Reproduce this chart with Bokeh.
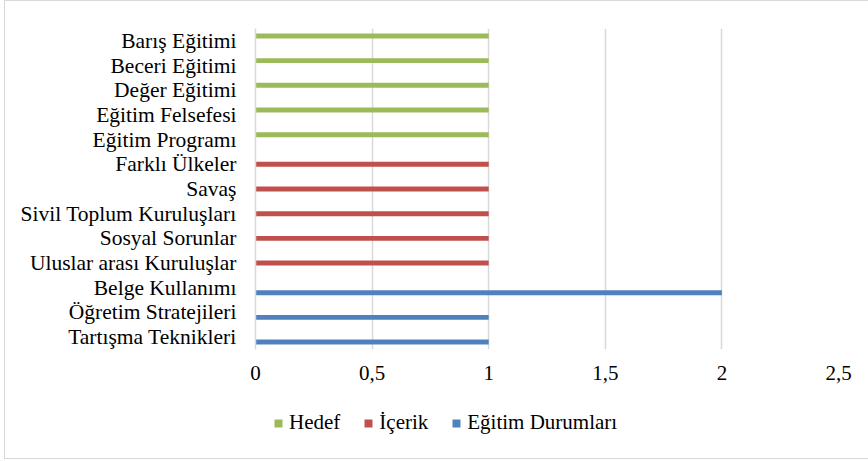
from bokeh.plotting import figure
from bokeh.layouts import column
from bokeh.models import FactorRange, Range1d, FixedTicker, Legend, LegendItem, ColumnDataSource
from bokeh.transform import dodge
from bokeh.embed import file_html
from bokeh.resources import INLINE

categories = ["Barış Eğitimi", "Beceri Eğitimi", "Değer Eğitimi", "Eğitim Felsefesi",
              "Eğitim Programı", "Farklı Ülkeler", "Savaş", "Sivil Toplum Kuruluşları",
              "Sosyal Sorunlar", "Uluslar arası Kuruluşlar", "Belge Kullanımı",
              "Öğretim Stratejileri", "Tartışma Teknikleri"]
hedef = [1, 1, 1, 1, 1, 0, 0, 0, 0, 0, 0, 0, 0]
icerik = [0, 0, 0, 0, 0, 1, 1, 1, 1, 1, 0, 0, 0]
egitim_durumlari = [0, 0, 0, 0, 0, 0, 0, 0, 0, 0, 2, 1, 1]
series_names = ["Hedef", "İçerik", "Eğitim Durumları"]
series_colors = ["#9BBB59", "#C0504D", "#4F81BD"]
x_ticks = [0, 0.5, 1, 1.5, 2, 2.5]
x_tick_labels = ["0", "0,5", "1", "1,5", "2", "2,5"]

FONT = "Liberation Serif"
GRID = "#D9D9D9"

src = ColumnDataSource(dict(cat=categories, hedef=hedef, icerik=icerik, egitim=egitim_durumlari))
offsets = [0.2, 0.0, -0.2]
cols = ["hedef", "icerik", "egitim"]

# main chart
p = figure(width=863, height=390, output_backend="svg", toolbar_location=None,
           y_range=FactorRange(factors=list(reversed(categories))),
           x_range=Range1d(0, 2.5),
           min_border_left=250, min_border_right=30, min_border_top=27, min_border_bottom=42)
p.outline_line_color = None

for name, col, color, off in zip(series_names, cols, series_colors, offsets):
    p.hbar(y=dodge("cat", off, range=p.y_range), left=0, right=col, height=0.2,
           source=src, fill_color=color, line_color=None)

p.xaxis.ticker = FixedTicker(ticks=x_ticks)
p.xaxis.major_label_overrides = {t: l for t, l in zip(x_ticks, x_tick_labels)}
p.xaxis.axis_line_color = None
p.xaxis.major_tick_line_color = None
p.xaxis.minor_tick_line_color = None
p.xaxis.major_tick_out = 0
p.xaxis.major_label_standoff = 16
p.xaxis.major_label_text_font = FONT
p.xaxis.major_label_text_font_size = "21px"
p.xaxis.major_label_text_color = "#000000"

p.yaxis.axis_line_color = GRID
p.yaxis.axis_line_width = 1.5
p.yaxis.major_tick_line_color = None
p.yaxis.major_tick_out = 0
p.yaxis.major_label_standoff = 19
p.yaxis.major_label_text_font = FONT
p.yaxis.major_label_text_font_size = "21.5px"
p.yaxis.major_label_text_color = "#000000"

p.xgrid.grid_line_color = GRID
p.xgrid.grid_line_width = 1.5
p.ygrid.grid_line_color = None

# legend strip: zero-height copies of the series, only their legend entries show
lf = figure(width=863, height=67, output_backend="svg", toolbar_location=None,
            y_range=FactorRange(factors=list(reversed(categories))),
            x_range=Range1d(10, 11), x_axis_location=None, y_axis_location=None,
            min_border_left=250, min_border_right=30, min_border_top=0, min_border_bottom=0,
            background_fill_color=None, border_fill_color=None)
lf.outline_line_color = None
lf.xgrid.visible = False
lf.ygrid.visible = False
items = []
for name, col, color, off in zip(series_names, cols, series_colors, offsets):
    r = lf.hbar(y=dodge("cat", off, range=lf.y_range), left=0, right=col, height=0,
                source=src, fill_color=color, line_color=None)
    items.append(LegendItem(label=name, renderers=[r]))

legend = Legend(items=items, orientation="horizontal", location=(18, 23),
                label_text_font=FONT, label_text_font_size="21px", label_text_color="#000000",
                glyph_width=10, glyph_height=10, label_standoff=6, spacing=23,
                padding=0, margin=0, border_line_color=None, background_fill_alpha=0)
lf.add_layout(legend, "center")

layout = column(p, lf, spacing=0,
                styles={"border-left": "1px solid #D9D9D9", "border-top": "1px solid #D9D9D9",
                        "border-bottom": "1px solid #D9D9D9", "margin-left": "4px",
                        "background-color": "#FFFFFF"})

open("out.html", "w").write(file_html(layout, INLINE))
